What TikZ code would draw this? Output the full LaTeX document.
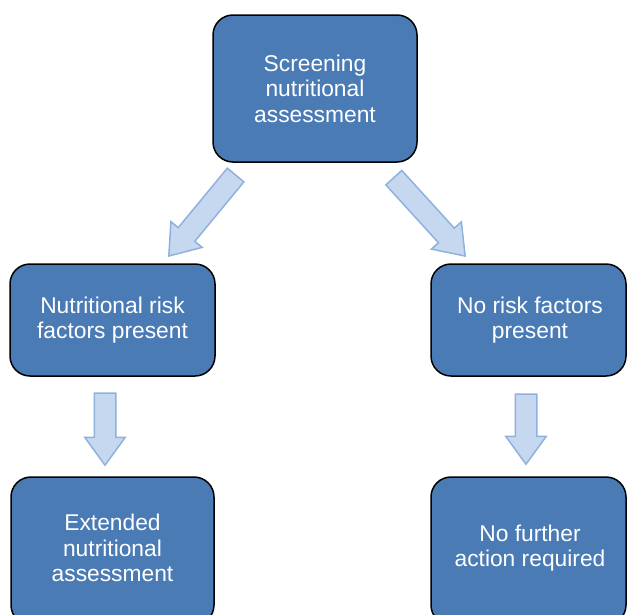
\documentclass[tikz,border=0pt]{standalone}
\usepackage{fontspec}
\setmainfont{Liberation Sans}
\usetikzlibrary{shapes.arrows}
\definecolor{boxblue}{HTML}{4A7BB5}
\definecolor{arrowfill}{HTML}{C6D8EF}
\definecolor{arrowline}{HTML}{8FB1DC}
\begin{document}
\begin{tikzpicture}[x=1pt,y=-1pt,
  stepbox/.style={draw=black,line width=1.5pt,fill=boxblue,rounded corners=20pt},
  steptext/.style={text=white,align=center,font=\fontsize{22.8}{25.5}\selectfont},
  blockarrow/.style={single arrow,draw=arrowline,fill=arrowfill,line width=1.5pt,inner xsep=0pt,inner ysep=10pt,minimum width=39pt,single arrow head extend=9.5pt,single arrow tip angle=72,anchor=tip,font=\tiny}]
\useasboundingbox (0,0) rectangle (627,614);
\begin{scope}
\clip (0,0) rectangle (627,614);
\draw[stepbox] (213,15) rectangle (417,162);
\node[steptext] (top) at (315,88.5) {Screening\\nutritional\\assessment};
\draw[stepbox] (10,264) rectangle (215,376);
\node[steptext] (risk) at (112.5,320) {Nutritional risk\\factors present};
\draw[stepbox] (431,264) rectangle (626,376);
\node[steptext] (norisk) at (530,320) {No risk factors\\present};
\draw[stepbox] (11,477) rectangle (214,625);
\node[steptext] (ext) at (112.5,548) {Extended\\nutritional\\assessment};
\draw[stepbox] (431,477) rectangle (626,625);
\node[steptext] (nofurther) at (530,548) {No further\\action required};
\node[blockarrow,minimum height=105pt,rotate=230.5] (a1) at (168,257) {};
\node[blockarrow,minimum height=106pt,rotate=-47.7] (a2) at (466,257) {};
\node[blockarrow,minimum height=72pt,rotate=-90] (a3) at (105,466.5) {};
\node[blockarrow,minimum height=70pt,rotate=-90] (a4) at (526,465.5) {};
\end{scope}
\end{tikzpicture}
\end{document}
